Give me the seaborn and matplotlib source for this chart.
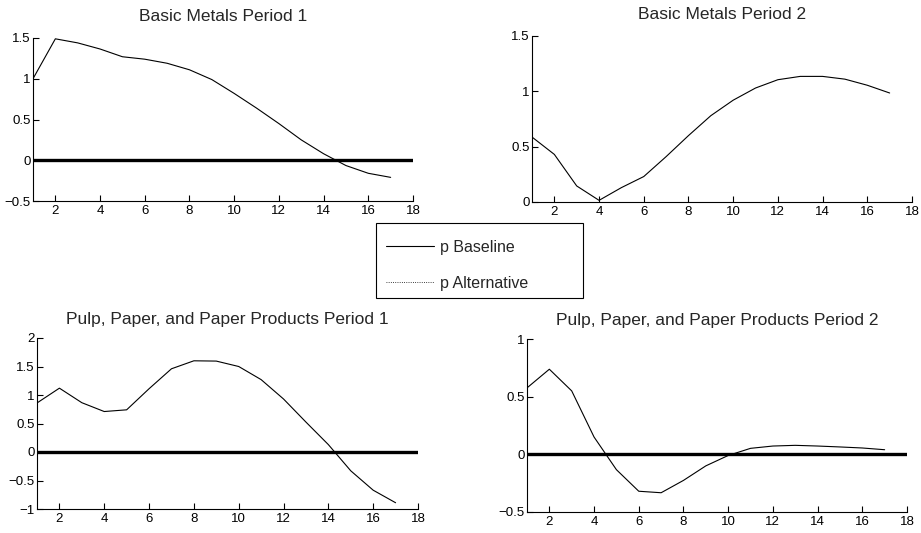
import matplotlib
matplotlib.use("Agg")
import matplotlib.pyplot as plt
from matplotlib.lines import Line2D
from matplotlib.patches import Rectangle
import numpy as np
import pandas as pd
import seaborn as sns

sns.set_style("ticks")
plt.rcParams['font.family'] = ['Liberation Sans', 'DejaVu Sans']

horizon = list(range(1, 18))

metals_p1 = [1.00, 1.49, 1.44, 1.365, 1.27, 1.24, 1.19, 1.11, 0.99, 0.82, 0.64, 0.45, 0.25, 0.08, -0.065, -0.16, -0.21]
metals_p2 = [0.587, 0.43, 0.145, 0.015, 0.13, 0.23, 0.41, 0.60, 0.78, 0.92, 1.03, 1.105, 1.135, 1.135, 1.11, 1.055, 0.985]
pulp_p1 = [0.86, 1.12, 0.865, 0.71, 0.74, 1.11, 1.46, 1.60, 1.595, 1.50, 1.27, 0.93, 0.525, 0.13, -0.33, -0.67, -0.89]
pulp_p2 = [0.576, 0.738, 0.55, 0.15, -0.133, -0.32, -0.333, -0.226, -0.10, -0.01, 0.052, 0.072, 0.078, 0.072, 0.064, 0.055, 0.04]

titles = ["Basic Metals Period 1", "Basic Metals Period 2",
          "Pulp, Paper, and Paper Products Period 1", "Pulp, Paper, and Paper Products Period 2"]
series = [metals_p1, metals_p2, pulp_p1, pulp_p2]
ylims = [(-0.5, 1.5), (0, 1.5), (-1, 2), (-0.5, 1)]
yticks = [[-0.5, 0, 0.5, 1, 1.5], [0, 0.5, 1, 1.5], [-1, -0.5, 0, 0.5, 1, 1.5, 2], [-0.5, 0, 0.5, 1]]
xticks = [2, 4, 6, 8, 10, 12, 14, 16, 18]
legend_labels = ["p Baseline", "p Alternative"]

W, H = 921, 533
fig = plt.figure(figsize=(W / 100, H / 100), dpi=100)

# axes boxes in pixels: left, right, top, bottom
boxes = [(33, 413, 38, 201), (532, 912, 36, 202), (37, 418, 338, 509), (527, 907, 339, 512)]
title_pads = [12, 12, 10, 10]


def fmt(v):
    s = ("%g" % v)
    return s.replace("-", "\u2212")


for i in range(4):
    l, r, t, b = boxes[i]
    ax = fig.add_axes([l / W, (H - b) / H, (r - l) / W, (b - t) / H])
    df = pd.DataFrame({"h": horizon, "v": series[i]})
    sns.lineplot(data=df, x="h", y="v", ax=ax, color="black", linewidth=0.8)
    if ylims[i][0] < 0:
        ax.axhline(0, color="black", linewidth=2.4, zorder=1)
    ax.set_xlim(1, 18)
    ax.set_ylim(*ylims[i])
    ax.set_xticks(xticks)
    ax.set_xticklabels([fmt(x) for x in xticks])
    ax.set_yticks(yticks[i])
    ax.set_yticklabels([fmt(y) for y in yticks[i]])
    ax.set_xlabel("")
    ax.set_ylabel("")
    ax.tick_params(direction="in", length=4, width=0.8, labelsize=9.5, colors="black")
    ax.tick_params(axis="y", pad=1.5)
    ax.tick_params(axis="x", pad=3)
    for s in ["top", "right"]:
        ax.spines[s].set_visible(False)
    for s in ["left", "bottom"]:
        ax.spines[s].set_linewidth(0.8)
        ax.spines[s].set_color("black")
    ax.set_title(titles[i], fontsize=12.5, pad=title_pads[i])
    ax.patch.set_alpha(0)

# legend frame
fig.patches.append(Rectangle((376 / W, 1 - 298 / H), (583 - 376) / W, (298 - 223) / H,
                             transform=fig.transFigure, facecolor="white", edgecolor="black",
                             linewidth=0.8, zorder=5))
handles = [Line2D([], [], color="black", linewidth=0.8, linestyle="-"),
           Line2D([], [], color="black", linewidth=0.6, linestyle=":")]
leg = fig.legend(handles, legend_labels, loc="upper left", bbox_to_anchor=(386 / W, 1 - 240 / H),
                 frameon=False, fontsize=11.5, handlelength=3.0,
                 borderpad=0, labelspacing=1.3, handletextpad=0.4, borderaxespad=0)
leg.set_zorder(6)

fig.savefig("out.png", dpi=100)
